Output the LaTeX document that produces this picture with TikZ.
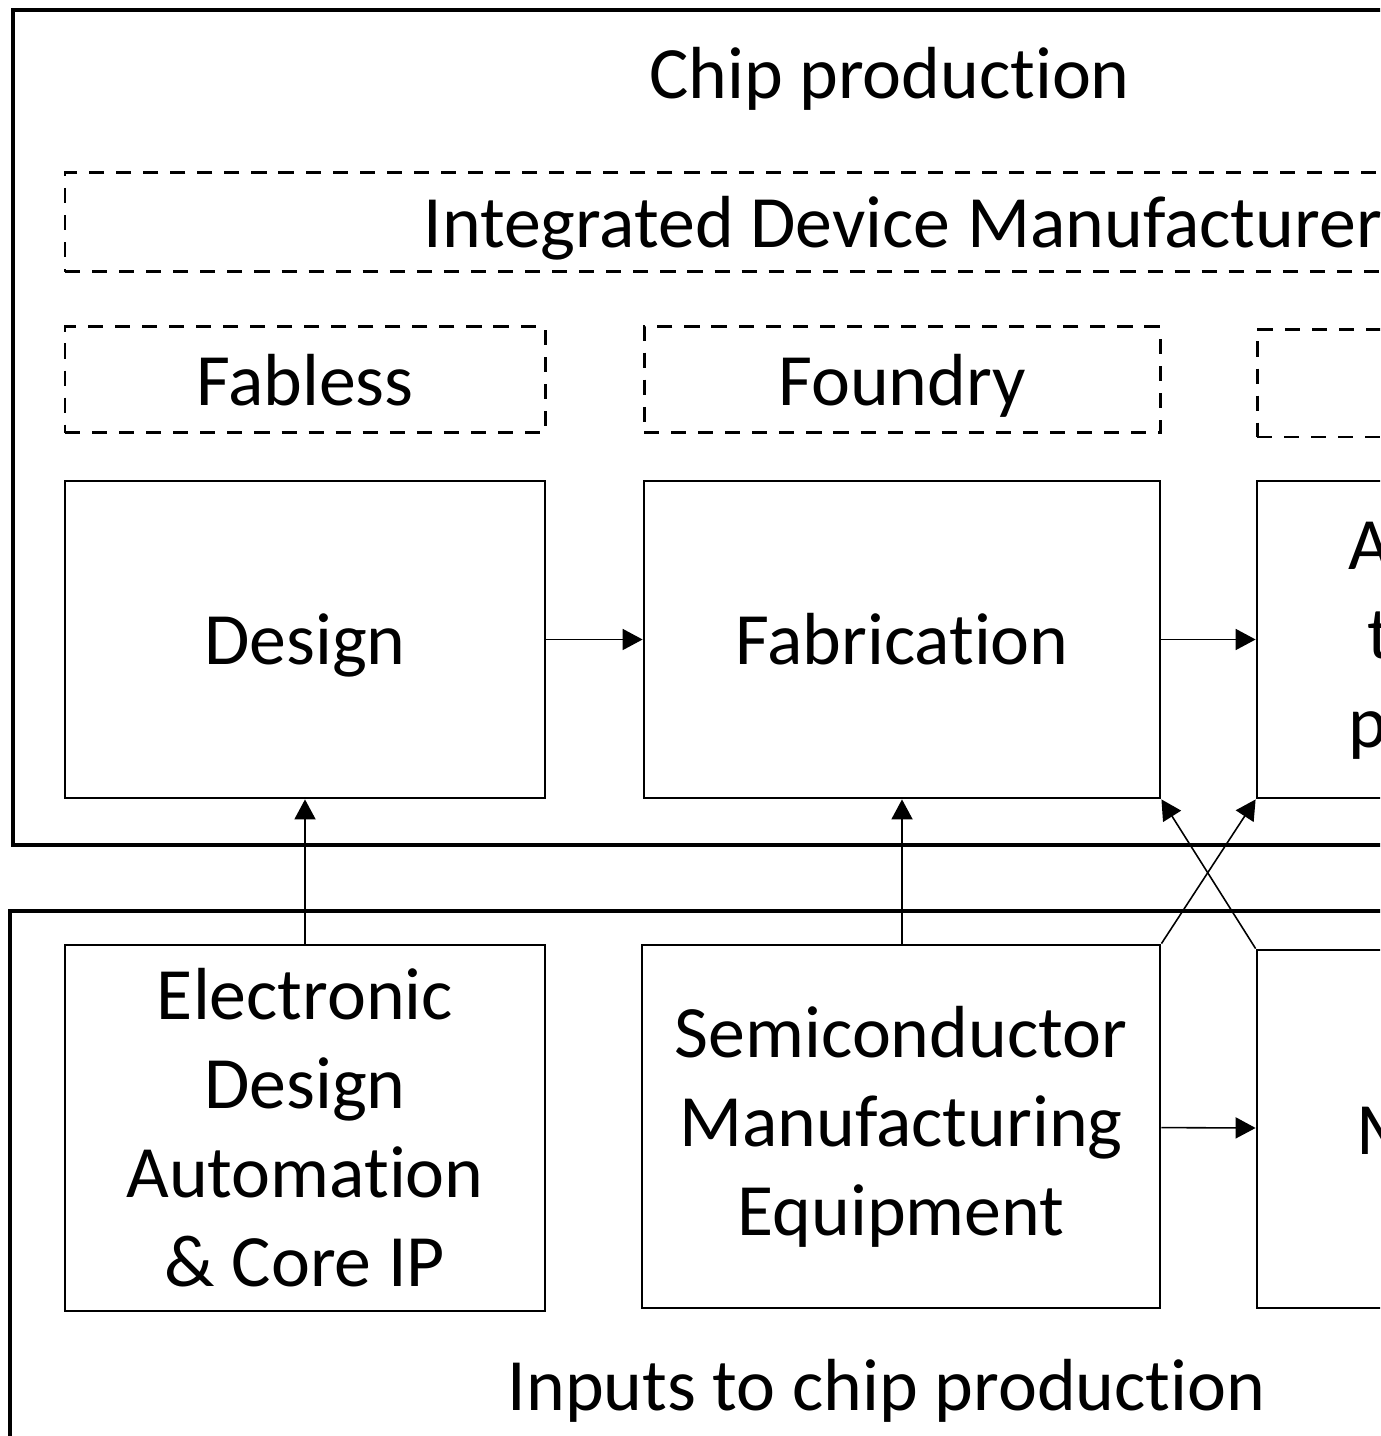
\documentclass[tikz,border=0pt]{standalone}
\usepackage{fontspec}
\setmainfont{Carlito}[Ligatures=NoCommon]
\usetikzlibrary{arrows.meta,positioning}

\begin{document}
\begin{tikzpicture}[
    every node/.style={font=\fontsize{21}{25.3}\selectfont,align=center},
    oneline/.style={text height=14.5pt,text depth=0pt},
    group/.style={draw,line width=0.9pt},
    stage/.style={draw,line width=0.8pt,minimum height=3.17cm,inner sep=0pt},
    role/.style={draw,line width=0.85pt,dash pattern=on 4.3pt off 3.4pt,
                 minimum height=1.06cm,inner sep=0pt,oneline},
    supply/.style={draw,line width=0.8pt,inner sep=0pt},
    arrow/.style={-{Triangle[length=5.7pt,width=6pt]},line width=0.45pt}]

    \useasboundingbox (0,0) rectangle (13.8,-14.36);
    \clip (0,0) rectangle (13.8,-14.36);

    % chip production
    \draw[group] (0.13,-0.10) rectangle (17.91,-8.45);
    \node[oneline] (prod) at (8.895,-0.73) {Chip production};

    \node[role,minimum width=16.75cm,minimum height=0.99cm] (idm) at (9.025,-2.225)
          {Integrated Device Manufacturer};
    \node[role,minimum width=4.80cm] (fabless) at (3.05,-3.80) {Fabless};
    \node[role,minimum width=5.16cm] (foundry) at (9.02,-3.80) {Foundry};
    \node[role,minimum width=4.82cm,minimum height=1.07cm] (osat) at (14.98,-3.835) {};

    \node[stage,oneline,minimum width=4.80cm] (design) at (3.05,-6.395) {Design};
    \node[stage,oneline,minimum width=5.16cm] (fab) at (9.02,-6.395) {Fabrication};
    \node[stage,minimum width=4.82cm] (atp) at (14.98,-6.395)
          {Assembly,\\test, and\\packaging};

    \draw[arrow] (design) -- (fab);
    \draw[arrow] (fab) -- (atp);

    % inputs
    \draw[group] (0.10,-9.11) rectangle (17.91,-14.60);
    \node[oneline] (inputs) at (8.865,-13.85) {Inputs to chip production};

    \node[supply,minimum width=4.80cm,minimum height=3.66cm] (eda) at (3.05,-11.28)
          {Electronic\\Design\\Automation\\\& Core IP};
    \node[supply,minimum width=5.18cm,minimum height=3.63cm] (sme) at (9.01,-11.265)
          {Semiconductor\\Manufacturing\\Equipment};
    \node[supply,oneline,minimum width=4.82cm,minimum height=3.58cm] (mat) at (14.98,-11.29)
          {Materials};

    \draw[arrow] (eda.north) -- (design.south);
    \draw[arrow] (sme.north -| fab) -- (fab.south);
    \draw[arrow] (sme.north east) -- (atp.south west);
    \draw[arrow] (mat.north west) -- (fab.south east);
    \draw[arrow] (sme) -- (mat);
\end{tikzpicture}
\end{document}
